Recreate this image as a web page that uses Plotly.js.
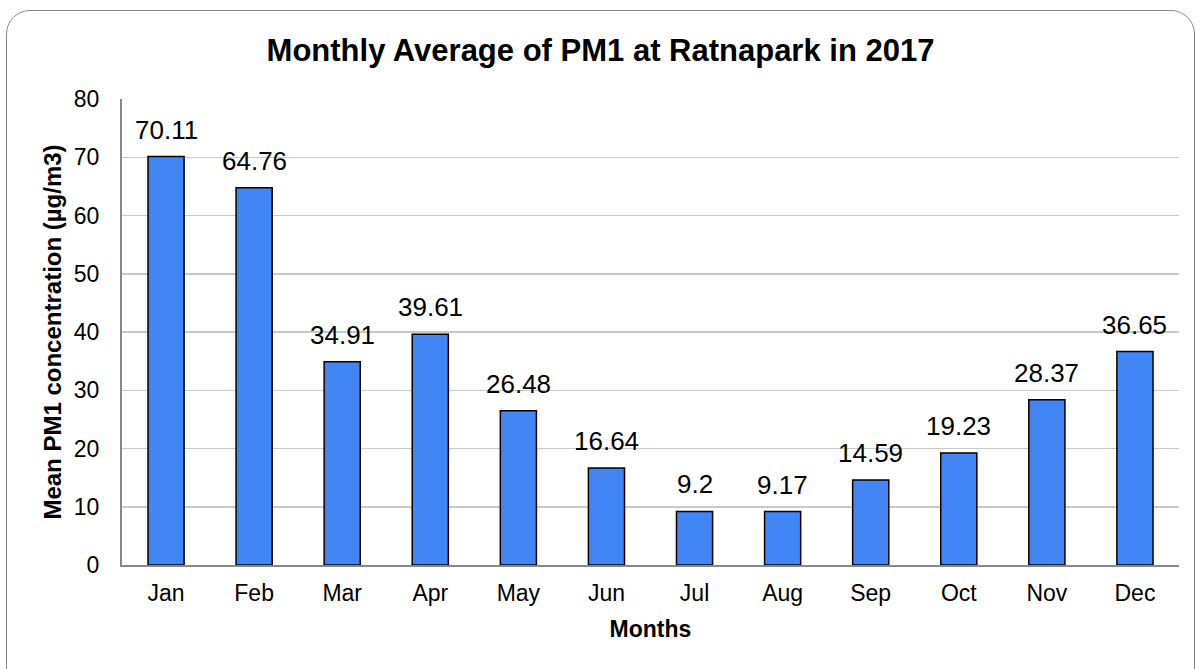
<!DOCTYPE html>
<html><head><meta charset="utf-8">
<script src="https://cdn.plot.ly/plotly-3.0.1.min.js"></script>
<style>
html,body{margin:0;padding:0;background:#fff;overflow:hidden;}
#chart{width:1201px;height:669px;position:absolute;left:0;top:0;}
#frame{position:absolute;left:6px;top:10px;width:1187px;height:680px;border:1.5px solid #8a8a8a;border-radius:24px;pointer-events:none;}
</style></head>
<body>
<div id="chart"></div>
<div id="frame"></div>
<script>
const months = ["Jan","Feb","Mar","Apr","May","Jun","Jul","Aug","Sep","Oct","Nov","Dec"];
const pm1 = [70.11,64.76,34.91,39.61,26.48,16.64,9.2,9.17,14.59,19.23,28.37,36.65];
const yTicks = [0,10,20,30,40,50,60,70,80];

const font = "Liberation Sans, Arial, sans-serif";
const labels = months.map((m,i)=>({
  x:m, y:pm1[i], xref:'x', yref:'y', text:String(pm1[i]), showarrow:false,
  yanchor:'bottom', yshift:10, font:{family:font,size:26,color:'#000'}
}));
Plotly.newPlot('chart', [{
  type:'bar', x: months, y: pm1,
  marker:{color:'#4285F4', line:{color:'#000', width:1.5}},
  hoverinfo:'x+y'
}], {
  width:1201, height:669,
  margin:{l:122, r:22, t:99, b:104},
  paper_bgcolor:'#fff', plot_bgcolor:'#fff',
  bargap:0.59,
  showlegend:false,
  annotations: labels,
  title:{text:'<b>Monthly Average of PM1 at Ratnapark in 2017</b>', font:{family:font,size:31,color:'#000'}, x:0.5, xanchor:'center', y:0.925, yanchor:'middle'},
  xaxis:{title:{text:'<b>Months</b>', font:{family:font,size:23,color:'#000'}, standoff:16},
    tickfont:{family:font,size:23,color:'#000'}, ticklabelstandoff:6, showline:true, linecolor:'#888', linewidth:2, ticks:'', showgrid:false},
  yaxis:{title:{text:'<b>Mean PM1 concentration (µg/m3)</b>', font:{family:font,size:24,color:'#000'}, standoff:5},
    range:[0,80], tickvals:yTicks, ticktext:yTicks.map(String), ticklabelstandoff:16,
    tickfont:{family:font,size:23,color:'#000'}, showline:true, linecolor:'#888', linewidth:2,
    gridcolor:'#c8c8c8', gridwidth:1.5, zeroline:false, ticks:'', ticklen:0}
}, {displayModeBar:false, staticPlot:true});
</script>
</body></html>
